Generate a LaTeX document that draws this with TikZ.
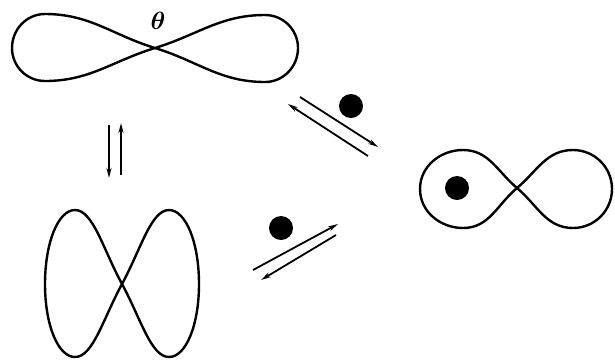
\documentclass[tikz,border=0pt]{standalone}
\usepackage{amsmath,amssymb,bm}
\usepackage{tikz}
\usetikzlibrary{arrows.meta}

\begin{document}
\begin{tikzpicture}[
  x=1pt, y=-1pt,
  loopline/.style={line width=2.4pt, line join=round},
  dot/.style={circle, fill=black, inner sep=0pt, minimum size=24pt},
  arr/.style={line width=1.8pt, -{Stealth[length=10pt,width=5pt]}},
  anglbl/.style={font=\Huge},
  >=Stealth
]
  \useasboundingbox (0,0) rectangle (615,360);

  % crossing points of the three loops
  \coordinate (ctop) at (155,48);
  \coordinate (cright) at (517,188);
  \coordinate (cbot) at (122,284);

  % horizontal figure eight with the angle
  \draw[loopline] (ctop) to[out=163,in=0] (45,14) to[out=180,in=90] (12,48)
    to[out=-90,in=180] (45,81) to[out=0,in=-163] (ctop)
    to[out=17,in=180] (265,15) to[out=0,in=90] (298,48)
    to[out=-90,in=0] (265,82) to[out=180,in=-17] (ctop);
  \node[anglbl] (ang) at (158,21) {$\bm{\theta}$};

  % figure eight with a bead in one lobe
  \draw[loopline] (cright) to[out=140,in=0] (463,150) to[out=180,in=90] (420,189)
    to[out=-90,in=180] (463,228) to[out=0,in=-140] (cright)
    to[out=40,in=180] (573,150) to[out=0,in=90] (612,189)
    to[out=-90,in=0] (573,228) to[out=180,in=-40] (cright);
  \node[dot] (bead) at (457,188) {};

  % upright figure eight
  \draw[loopline] (cbot) .. controls (103,249) and (93,210) .. (75,210)
    .. controls (58,210) and (45,243) .. (45,284)
    .. controls (45,325) and (58,357) .. (75,357)
    .. controls (93,357) and (103,319) .. (cbot)
    .. controls (141,249) and (151,210) .. (169,210)
    .. controls (186,210) and (199,243) .. (199,284)
    .. controls (199,325) and (186,357) .. (169,357)
    .. controls (151,357) and (141,319) .. (cbot);

  % arrow ends
  \coordinate (v1a) at (109,125);
  \coordinate (v1b) at (109,178);
  \coordinate (v2a) at (121,175);
  \coordinate (v2b) at (121,123);
  \coordinate (d1a) at (300,97);
  \coordinate (d1b) at (378,147);
  \coordinate (d2a) at (368,156);
  \coordinate (d2b) at (288,104);
  \coordinate (e1a) at (253,270);
  \coordinate (e1b) at (338,224);
  \coordinate (e2a) at (336,235);
  \coordinate (e2b) at (261,280);

  \draw[arr] (v1a) -- (v1b);
  \draw[arr] (v2a) -- (v2b);

  \node[dot] (beadup) at (351,106) {};
  \draw[arr] (d1a) -- (d1b);
  \draw[arr] (d2a) -- (d2b);

  \node[dot] (beadlow) at (281,228) {};
  \draw[arr] (e1a) -- (e1b);
  \draw[arr] (e2a) -- (e2b);
\end{tikzpicture}
\end{document}
